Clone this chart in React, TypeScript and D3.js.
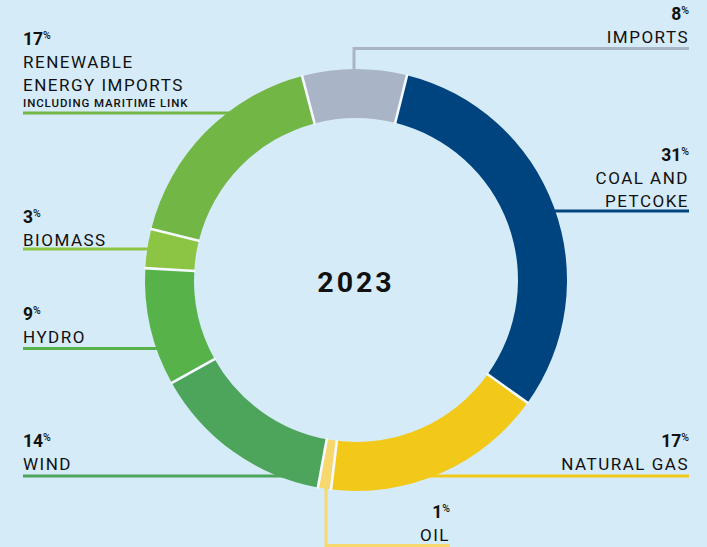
import React from "react";
import * as d3 from "d3";

const categories = ["IMPORTS", "COAL AND PETCOKE", "NATURAL GAS", "OIL", "WIND", "HYDRO", "BIOMASS", "RENEWABLE ENERGY IMPORTS"];
const values = [8, 31, 17, 1, 14, 9, 3, 17];
const colors = ["#aab4c7", "#00447f", "#f2c918", "#f6d86e", "#4da55b", "#57b24a", "#8cc543", "#72b746"];
const centerLabel = "2023";
const sublabel = "INCLUDING MARITIME LINK";

const W = 707, H = 547;
const cx = 356, cy = 280;
const rOuter = 211, rInner = 162;
const rMid = (rOuter + rInner) / 2;
const startDeg = -14.8;

type Lay = { side: "L" | "R"; lines: string[]; pctY: number; lineY: number; x: number; vertX?: number };
const layout: Lay[] = [
  { side: "R", lines: ["IMPORTS"], pctY: 20, lineY: 48.5, x: 689, vertX: 354 },
  { side: "R", lines: ["COAL AND", "PETCOKE"], pctY: 161, lineY: 211, x: 689 },
  { side: "R", lines: ["NATURAL GAS"], pctY: 447, lineY: 476, x: 689 },
  { side: "R", lines: ["OIL"], pctY: 518, lineY: 545.5, x: 450, vertX: 326 },
  { side: "L", lines: ["WIND"], pctY: 447, lineY: 476, x: 23 },
  { side: "L", lines: ["HYDRO"], pctY: 320, lineY: 348.5, x: 23 },
  { side: "L", lines: ["BIOMASS"], pctY: 223, lineY: 249, x: 23 },
  { side: "L", lines: ["RENEWABLE", "ENERGY IMPORTS"], pctY: 45, lineY: 113, x: 23 },
];

const FONT = "Roboto, 'DejaVu Sans', sans-serif";

export default function App() {
  const pie = d3.pie<number>().sort(null).value((d) => d)
    .startAngle((startDeg * Math.PI) / 180)
    .endAngle(((startDeg + 360) * Math.PI) / 180);
  const arcs = pie(values);
  const arc = d3.arc<d3.PieArcDatum<number>>().innerRadius(rInner).outerRadius(rOuter);

  const leaders = layout.map((l, i) => {
    const col = colors[i];
    if (l.vertX !== undefined) {
      const dx = l.vertX - cx;
      const dy = Math.sqrt(rMid * rMid - dx * dx);
      const yRing = l.lineY < cy ? cy - dy : cy + dy;
      const d = `M${l.x},${l.lineY}H${l.vertX}V${yRing}`;
      return <path key={i} d={d} fill="none" stroke={col} strokeWidth={3} />;
    }
    const dy = l.lineY - cy;
    const dx = Math.sqrt(Math.max(0, rMid * rMid - dy * dy));
    const xRing = l.side === "L" ? cx - dx : cx + dx;
    return <line key={i} x1={l.x} x2={xRing} y1={l.lineY} y2={l.lineY} stroke={col} strokeWidth={3} />;
  });

  const texts = layout.map((l, i) => {
    const anchor = l.side === "L" ? "start" : "end";
    return (
      <g key={i} fontFamily={FONT} fill="#111">
        <text x={l.x} y={l.pctY} textAnchor={anchor} fontSize={17.5} fontWeight={700}>
          {values[i]}
          <tspan fontSize={10.5} fontWeight={500} dy={-6}>%</tspan>
        </text>
        {l.lines.map((t, j) => (
          <text key={j} x={l.x} y={l.pctY + 23 + j * 22.5} textAnchor={anchor} fontSize={17} letterSpacing={1.5} fontWeight={400}>
            {t}
          </text>
        ))}
        {i === 7 && (
          <text x={l.x} y={107} fontSize={11.5} letterSpacing={0.9} fontWeight={500}>{sublabel}</text>
        )}
      </g>
    );
  });

  const seps = arcs.map((a, i) => {
    const ang = a.startAngle;
    const s = Math.sin(ang), c = -Math.cos(ang);
    return (
      <line key={i} x1={(rInner - 1) * s} y1={(rInner - 1) * c} x2={(rOuter + 1) * s} y2={(rOuter + 1) * c}
        stroke="#f4faff" strokeWidth={2.6} />
    );
  });

  return (
    <div style={{ position: "absolute", left: 0, top: 0 }}>
      <svg width={W} height={H} style={{ display: "block" }}>
        <rect width={W} height={H} fill="#d6ebf8" />
        {leaders}
        <g transform={`translate(${cx},${cy})`}>
          {arcs.map((a, i) => (
            <path key={i} d={arc(a) || ""} fill={colors[i]} />
          ))}
          {seps}
        </g>
        {texts}
        <text x={cx} y={292} textAnchor="middle" fontFamily={FONT} fontSize={28.5} fontWeight={700} fill="#111" letterSpacing={3}>
          {centerLabel}
        </text>
      </svg>
    </div>
  );
}
